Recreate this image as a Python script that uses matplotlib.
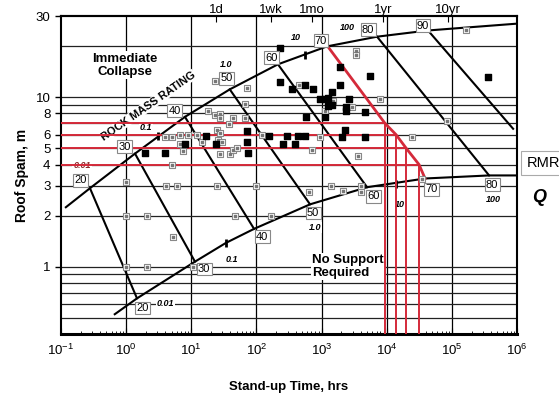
import numpy as np
import matplotlib
matplotlib.use('Agg')
import matplotlib.pyplot as plt
from matplotlib.ticker import NullLocator, FixedLocator, NullFormatter

plt.rcParams['font.family'] = ['Liberation Sans', 'DejaVu Sans']

# boundary curves (stand-up time hrs, span m)
upper_t = [0.119, 0.279, 1.37, 8.0, 39, 214, 1211, 7100, 43000, 1e6]
upper_s = [2.24, 2.9, 4.64, 7.64, 11.1, 15.6, 19.9, 22.7, 24.7, 27.1]
lower_t = [0.67, 1.47, 11.4, 34, 92, 665, 4990, 38700, 372000, 1e6]
lower_s = [0.524, 0.65, 1.07, 1.38, 1.67, 2.33, 2.94, 3.31, 3.45, 3.45]

# RMR lines: (upper node) -> (lower node)
rmr = [20, 30, 40, 50, 60, 80, 90]
rmr_t0 = [0.279, 1.37, 8.0, 39, 214, 7100, 43000]
rmr_s0 = [2.9, 4.64, 7.64, 11.1, 15.6, 22.7, 24.7]
rmr_t1 = [1.47, 11.4, 92, 665, 4990, 372000, 870000]
rmr_s1 = [0.65, 1.07, 1.67, 2.33, 2.94, 3.45, 6.5]

# RMR 70 line (red) and the span read-offs
red_t = [1230, 9400, 13900, 19800, 31300, 38700]
red_s = [20, 7, 6, 5, 4, 3.31]
span_vals = [7, 6, 5, 4]
span_time = [9400, 13900, 19800, 31300]

# case histories
fill_t = [577, 72, 16.8, 156, 294, 435, 557, 8.0, 24, 72, 256, 391, 1.95, 4.0, 74,
          230, 1920, 5540, 230, 557, 351, 739, 1920, 1446, 946, 1130, 1256, 2640,
          1256, 1446, 2373, 2373, 4640, 1130, 2290, 2060, 4640, 359000]
fill_s = [7.6, 6.3, 5.9, 5.9, 5.9, 5.9, 5.9, 5.3, 5.3, 5.4, 5.3, 5.3, 4.65, 4.7, 4.65,
          19.6, 15.0, 13.4, 12.2, 11.7, 11.1, 11.1, 11.7, 10.7, 9.7, 9.7, 9.9, 9.7,
          8.9, 9.0, 8.7, 8.3, 8.2, 7.6, 6.4, 5.85, 5.85, 13.1]
open_t = [67, 18, 23, 28, 28, 44, 67, 38, 25, 28, 6.7, 8.9, 4.0, 5.1, 12.2, 122,
          6.7, 14.6, 26, 30, 7.5, 28, 39, 44, 50, 5.1, 23, 72,
          1.0, 4.1, 6.0, 25, 99, 1.0, 2.1, 47, 167, 5.2, 1.0, 2.1, 10.6,
          640, 1397, 2135, 4030, 4030, 34800, 3380, 3380, 450, 1499, 1130, 2930,
          7900, 84300, 946, 24400, 713, 3625, 165000]
open_s = [9.1, 8.3, 7.85, 7.95, 7.5, 7.5, 7.5, 6.9, 6.4, 6.1, 6.0, 6.0, 5.85, 5.85, 6.0, 6.0,
          5.3, 5.4, 5.6, 5.45, 4.8, 4.6, 4.6, 4.9, 5.0, 3.95, 12.4, 11.3,
          3.15, 3.0, 3.0, 3.0, 3.0, 2.0, 2.0, 2.0, 2.0, 1.5, 1.0, 1.0, 1.0,
          2.75, 3.0, 2.8, 3.0, 2.75, 3.3, 18.8, 17.6, 11.7, 9.5, 8.3, 8.7,
          9.7, 7.2, 5.85, 5.85, 4.9, 4.5, 24.7]

# labels on the curves
up_lab = ['20', '30', '40', '50', '60', '70', '80', '90']
up_lab_t = [0.203, 0.96, 5.6, 35, 173, 980, 5160, 36000]
up_lab_s = [3.23, 5.1, 8.3, 12.9, 17.1, 21.5, 25.0, 26.4]
lo_lab = ['20', '30', '40', '50', '60', '70', '80']
lo_lab_t = [1.8, 15.7, 122, 740, 6170, 47900, 414000]
lo_lab_s = [0.57, 0.97, 1.5, 2.07, 2.6, 2.86, 3.05]
q_lab = ['0.01', '0.1', '1.0', '10', '100']
q_up_t = [0.21, 2.0, 34, 405, 2460]
q_up_s = [3.95, 6.6, 15.6, 22.4, 25.6]
q_lo_t = [4.0, 42, 790, 16000, 428000]
q_lo_s = [0.61, 1.1, 1.71, 2.33, 2.5]
qtick_t = [3.1, 557, 34, 14000]
qtick_s = [5.9, 17.8, 1.38, 3.07]

x_grid = [1, 10, 100, 1e3, 1e4, 1e5]
y_grid = [0.5, 0.6, 0.7, 0.8, 0.9, 1, 2, 3, 4, 5, 6, 7, 8, 9, 10, 20]
y_ticks = [1, 2, 3, 4, 5, 6, 8, 10, 30]
time_ticks = [24, 168, 720, 8760, 87600]
time_labels = ['1d', '1wk', '1mo', '1yr', '10yr']

red = '#d42a3a'
fig = plt.figure(figsize=(5.59, 3.94), dpi=100)
ax = fig.add_axes([0.109, 0.152, 0.816, 0.807])
ax.set_xscale('log')
ax.set_yscale('log')
ax.set_xlim(0.1, 1e6)
ax.set_ylim(0.4, 30)

for v in x_grid:
    ax.axvline(v, color='k', lw=0.9, zorder=1)
for h in y_grid:
    ax.axhline(h, color='#222222', lw=0.9, zorder=1)

ax.plot(upper_t, upper_s, color='k', lw=1.5, zorder=3)
ax.plot(lower_t, lower_s, color='k', lw=1.5, zorder=3)
for i in range(len(rmr)):
    ax.plot([rmr_t0[i], rmr_t1[i]], [rmr_s0[i], rmr_s1[i]], color='k', lw=1.5, zorder=3)
ax.plot(qtick_t, qtick_s, ls='none', marker='|', ms=6, mew=2, color='k', zorder=3)

for i in range(len(span_vals)):
    ax.plot([0.1, span_time[i]], [span_vals[i], span_vals[i]], color=red, lw=1.4, zorder=4)
    ax.plot([span_time[i], span_time[i]], [0.4, span_vals[i]], color=red, lw=1.4, zorder=4)
ax.plot(red_t, red_s, color=red, lw=2, zorder=4)

ax.scatter(open_t, open_s, marker='s', s=22, facecolor='white', edgecolor='#888888',
           lw=0.8, zorder=5)
ax.scatter(open_t, open_s, marker='s', s=2, color='#777777', zorder=6)
ax.scatter(fill_t, fill_s, marker='s', s=24, color='k', zorder=6)

boxstyle = dict(boxstyle='square,pad=0.12', fc='white', ec='#888888', lw=0.8)
for i in range(len(up_lab)):
    ax.text(up_lab_t[i], up_lab_s[i], up_lab[i], fontsize=8, ha='center', va='center',
            bbox=boxstyle, zorder=7)
for i in range(len(lo_lab)):
    ax.text(lo_lab_t[i], lo_lab_s[i], lo_lab[i], fontsize=8, ha='center', va='center',
            bbox=boxstyle, zorder=7)
for i in range(len(q_lab)):
    c = '#8a2a2a' if i == 0 else 'k'
    ax.text(q_up_t[i], q_up_s[i], q_lab[i], fontsize=6.5, fontweight='bold',
            style='italic', ha='center', va='center', color=c, zorder=2,
            bbox=dict(boxstyle='square,pad=0.1', fc='white', ec='none'))
    ax.text(q_lo_t[i], q_lo_s[i], q_lab[i], fontsize=6.5, fontweight='bold',
            style='italic', ha='center', va='center', zorder=2,
            bbox=dict(boxstyle='square,pad=0.1', fc='white', ec='none'))

ax.text(0.96, 15.4, 'Immediate\nCollapse', fontsize=9.5, fontweight='bold',
        ha='center', va='center', linespacing=1.1, zorder=2,
        bbox=dict(boxstyle='square,pad=0.1', fc='white', ec='none'))
ax.text(713, 1.0, 'No Support\nRequired', fontsize=9.5, fontweight='bold',
        ha='left', va='center', linespacing=1.1, zorder=2,
        bbox=dict(boxstyle='square,pad=0.1', fc='white', ec='none'))
ax.text(2.17, 8.86, 'ROCK MASS RATING', fontsize=8, fontweight='bold', rotation=35,
        ha='center', va='center', rotation_mode='anchor', zorder=2,
        bbox=dict(boxstyle='square,pad=0.05', fc='white', ec='none'))

ax.yaxis.set_major_locator(FixedLocator(y_ticks))
ax.set_yticklabels([str(v) for v in y_ticks])
ax.yaxis.set_minor_locator(NullLocator())
ax.xaxis.set_minor_formatter(NullFormatter())
ax.tick_params(axis='y', direction='out', length=4, width=1, labelsize=9.5)
ax.tick_params(axis='x', which='major', direction='in', length=4, labelsize=9.5, pad=6)
ax.tick_params(axis='x', which='minor', direction='in', length=2)
for side in ['left', 'right', 'top']:
    ax.spines[side].set_linewidth(1.5)
ax.spines['bottom'].set_linewidth(2.2)

sec = ax.secondary_xaxis('top')
sec.set_xticks(time_ticks, labels=time_labels)
sec.xaxis.set_minor_locator(NullLocator())
sec.tick_params(direction='in', length=4, labelsize=9.5, pad=0)
sec.spines['top'].set_linewidth(1.5)

ax.set_xlabel('Stand-up Time, hrs', fontsize=9.5, fontweight='bold', labelpad=17)
ax.set_ylabel('Roof Spam, m', fontsize=10, fontweight='bold', labelpad=5)

fig.text(0.942, 0.586, 'RMR', fontsize=10.5, ha='left', va='center',
         bbox=dict(boxstyle='square,pad=0.35', fc='white', ec='#aaaaaa', lw=0.8))
fig.text(0.952, 0.5, 'Q', fontsize=13, fontweight='bold', style='italic',
         ha='left', va='center')

fig.savefig('out.png', dpi=100)
